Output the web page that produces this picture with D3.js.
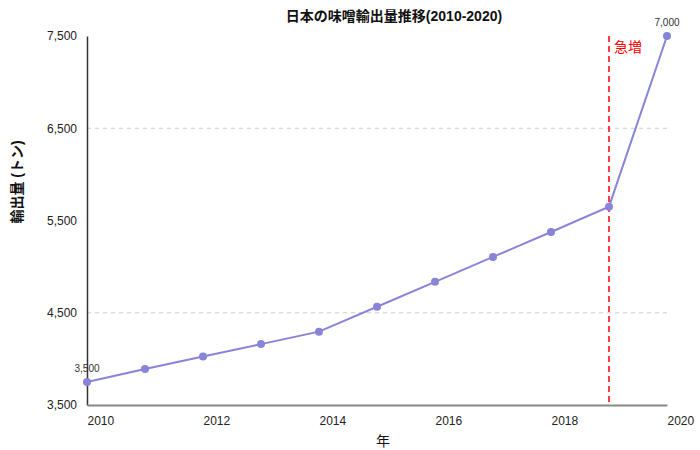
<!DOCTYPE html>
<html><head><meta charset="utf-8">
<script src="https://cdn.jsdelivr.net/npm/d3@7"></script>
<style>body{margin:0;background:#fff;} text{font-family:"Liberation Sans",Arial,"Noto Sans CJK JP",sans-serif;}</style>
</head><body><svg id="c" width="700" height="450"></svg>
<script>
const years = [2010,2011,2012,2013,2014,2015,2016,2017,2018,2019,2020];
const exportsTons = [3750,3890,4025,4160,4295,4565,4835,5105,5375,5650,7500];
const yTicks = [3500,4500,5500,6500,7500];
const gridValues = [4500,6500];
const xTicks = [2010,2012,2014,2016,2018,2020];
const pointLabels = [{year:2010, text:"3,500"},{year:2020, text:"7,000"}];
const markerYear = 2019;
const markerText = "急増";
const titleText = "日本の味噌輸出量推移(2010-2020)";
const xLabel = "年";
const yLabel = "輸出量 (トン)";

const svg = d3.select("#c");
const m = {l:87, r:33, t:36, b:45};
const W = 700, H = 450;
const x = d3.scaleLinear().domain([2010,2020]).range([m.l, W-m.r]);
const y = d3.scaleLinear().domain([3500,7500]).range([H-m.b, m.t]);

// gridlines
svg.append("g").selectAll("line").data(gridValues).join("line")
  .attr("x1", m.l).attr("x2", W-m.r)
  .attr("y1", d=>y(d)).attr("y2", d=>y(d))
  .attr("stroke","#ccc").attr("stroke-width",1).attr("stroke-dasharray","4,4");

// y axis
const ya = svg.append("g").attr("transform",`translate(${m.l},0)`)
  .call(d3.axisLeft(y).tickValues(yTicks).tickFormat(d3.format(",")).tickSize(0).tickPadding(10));
ya.select(".domain").attr("stroke","#333").attr("stroke-width",1.5);
ya.selectAll("text").attr("font-size",12).attr("fill","#222");

// x axis
const xa = svg.append("g").attr("transform",`translate(0,${H-m.b})`)
  .call(d3.axisBottom(x).tickValues(xTicks).tickFormat(d3.format("d")).tickSize(0).tickPadding(11));
xa.select(".domain").attr("stroke","#888").attr("stroke-width",2);
xa.selectAll("text").attr("font-size",12).attr("fill","#222").attr("text-anchor","start");

// marker line
svg.append("line")
  .attr("x1", x(markerYear)).attr("x2", x(markerYear))
  .attr("y1", m.t).attr("y2", H-m.b)
  .attr("stroke","red").attr("stroke-width",1.5).attr("stroke-dasharray","6,4");
svg.append("text").attr("x", x(markerYear)+5).attr("y", 52)
  .attr("fill","red").attr("font-size",14).text(markerText);

// line
const data = years.map((yr,i)=>({year:yr, value:exportsTons[i]}));
svg.append("path").datum(data)
  .attr("fill","none").attr("stroke","#8884d8").attr("stroke-width",2)
  .attr("d", d3.line().x(d=>x(d.year)).y(d=>y(d.value)));
svg.append("g").selectAll("circle").data(data).join("circle")
  .attr("cx", d=>x(d.year)).attr("cy", d=>y(d.value)).attr("r",4)
  .attr("fill","#8884d8");

// point labels
svg.append("g").selectAll("text").data(pointLabels).join("text")
  .attr("x", d=>x(d.year))
  .attr("y", d=>y(exportsTons[years.indexOf(d.year)])-10)
  .attr("text-anchor","middle").attr("font-size",10).attr("fill","#333")
  .text(d=>d.text);

// title
svg.append("text").attr("x",394).attr("y",21).attr("text-anchor","middle")
  .attr("font-size",14).attr("font-weight","bold").attr("fill","#111").text(titleText);
// axis labels
svg.append("text").attr("x",383).attr("y",446).attr("text-anchor","middle")
  .attr("font-size",14).attr("fill","#111").text(xLabel);
svg.append("text").attr("transform","translate(22,182) rotate(-90)").attr("text-anchor","middle")
  .attr("font-size",14).attr("font-weight","bold").attr("fill","#111").text(yLabel);
</script></body></html>
